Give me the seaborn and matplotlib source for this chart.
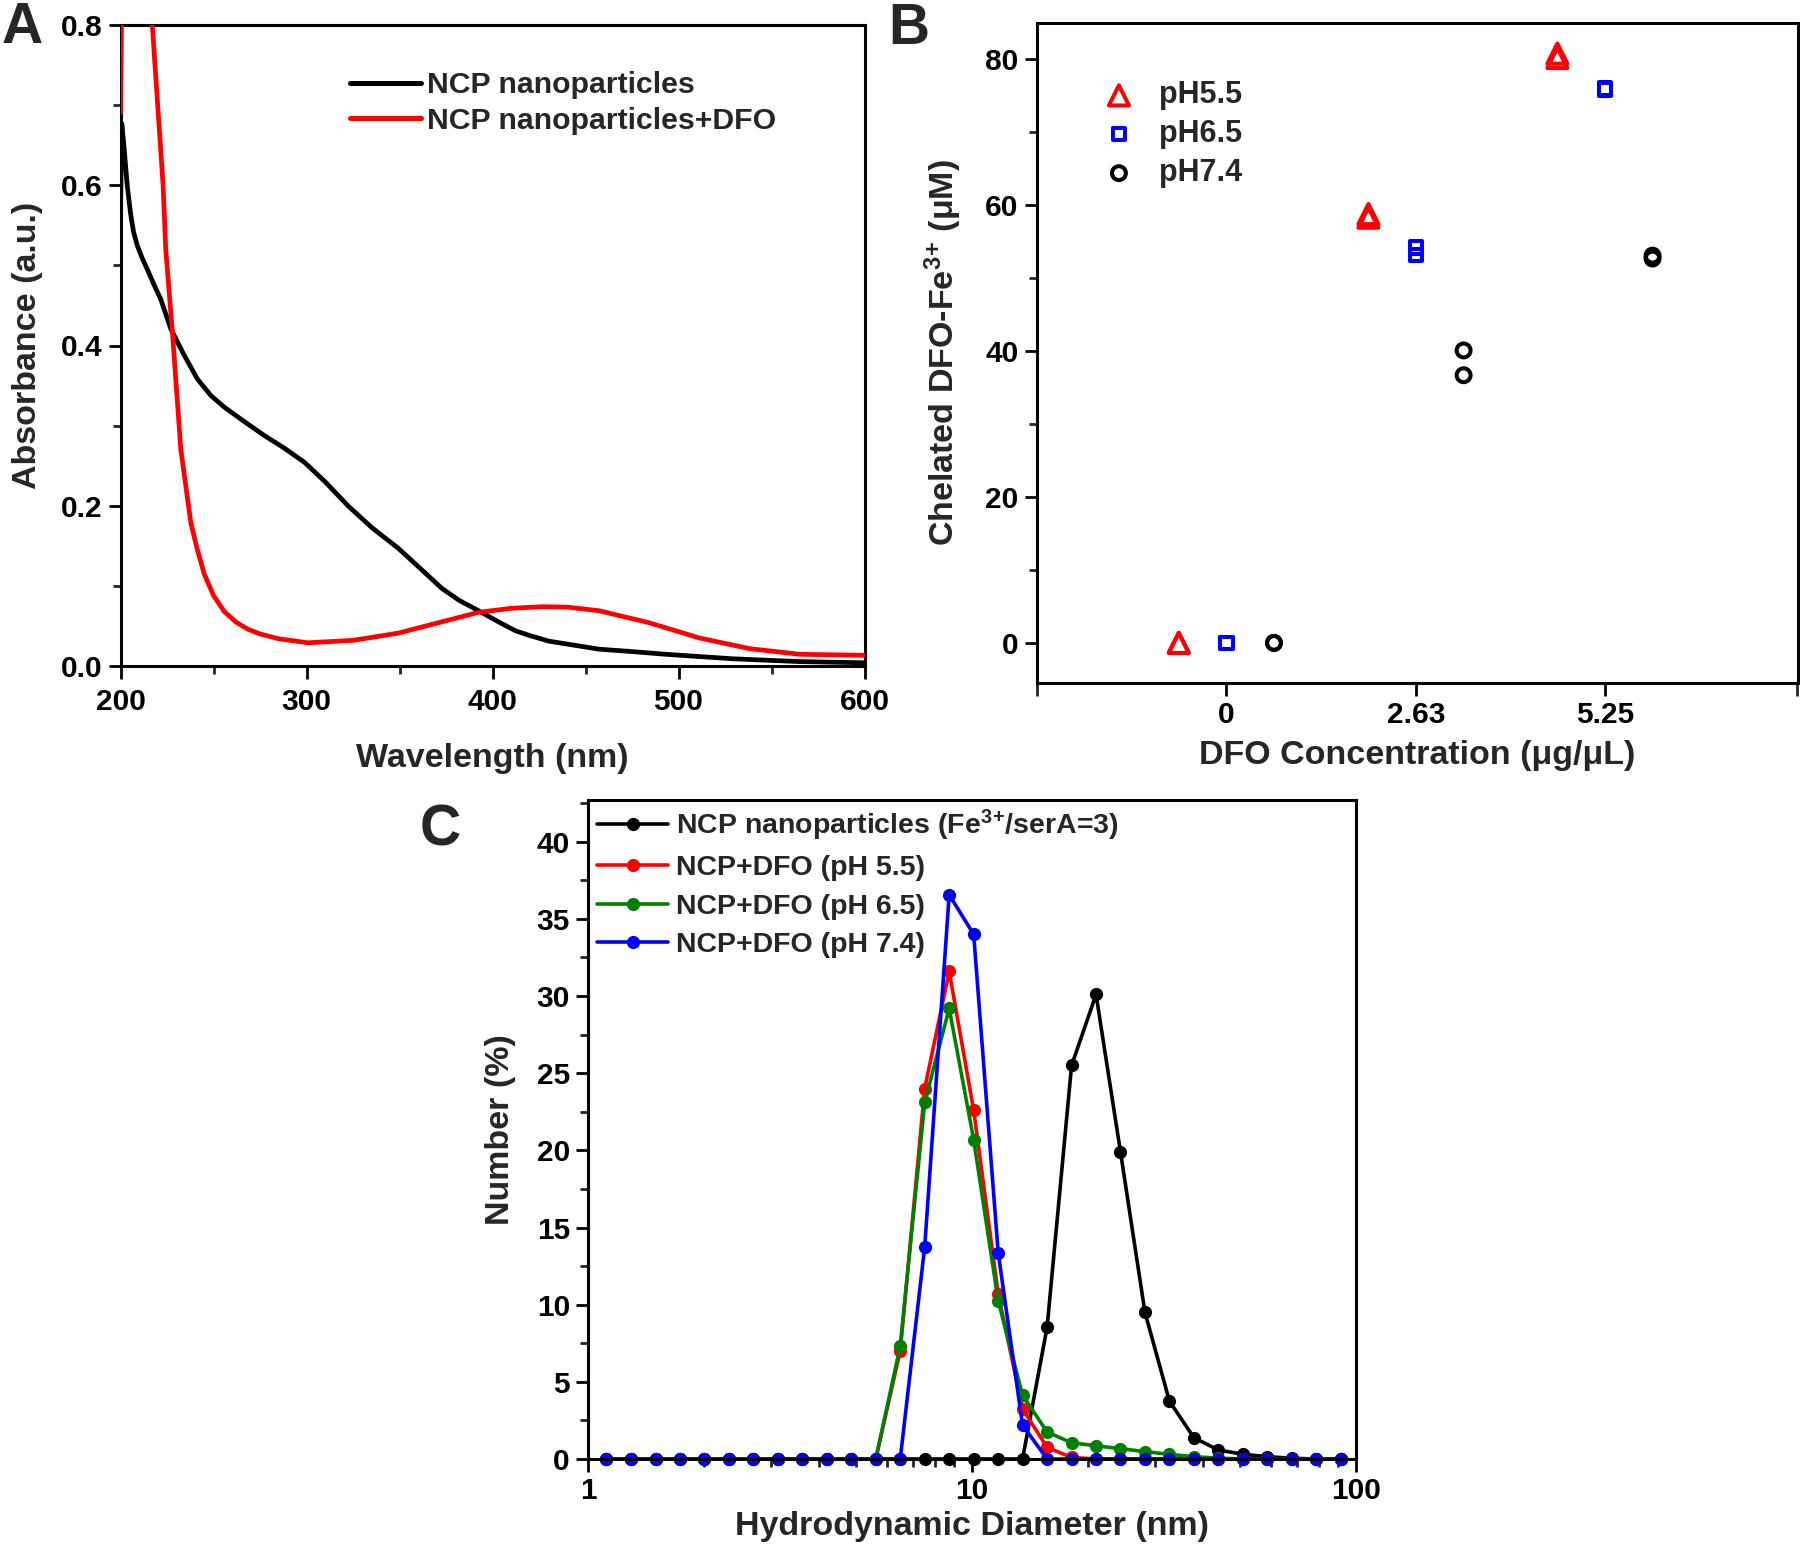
import numpy as np
import pandas as pd
import matplotlib
matplotlib.use("Agg")
import matplotlib.pyplot as plt
import seaborn as sns
from matplotlib.ticker import MultipleLocator, FixedLocator, LogLocator, NullFormatter, FixedFormatter

# ---------------- Panel A data (UV-vis) ----------------
wl_ncp = [200.0, 200.7, 202.0, 203.6, 205.4, 207.0, 209.0, 211.5, 214.4, 218.0, 221.6, 227.0,
          234.2, 241.4, 248.6, 255.8, 266.0, 277.4, 288.0, 299.0, 310.0, 322.3, 335.0, 349.3,
          362.0, 372.7, 382.0, 392.5, 403.3, 412.3, 420.0, 430.3, 457.3, 475.0, 493.3, 529.2,
          565.2, 600.0]
abs_ncp = [0.56, 0.677, 0.645, 0.600, 0.565, 0.542, 0.525, 0.510, 0.495, 0.476, 0.458, 0.421,
           0.388, 0.358, 0.3375, 0.323, 0.306, 0.2875, 0.272, 0.254, 0.230, 0.200, 0.173, 0.147,
           0.120, 0.097, 0.082, 0.069, 0.055, 0.044, 0.038, 0.031, 0.021, 0.018, 0.0146, 0.009,
           0.0055, 0.004]

wl_dfo = [200.0, 200.8, 205.0, 212.0, 217.1, 222.9, 224.3, 227.9, 232.4, 237.8, 241.0, 245.0,
          250.0, 255.8, 262.0, 268.4, 275.0, 285.0, 300.7, 325.0, 349.3, 370.9, 392.5, 410.0,
          426.6, 440.0, 457.3, 484.2, 511.2, 538.2, 565.2, 600.0]
abs_dfo = [0.69, 0.86, 1.2, 1.2, 0.80, 0.60, 0.521, 0.417, 0.271, 0.179, 0.148, 0.115,
           0.088, 0.068, 0.055, 0.046, 0.040, 0.034, 0.029, 0.032, 0.041, 0.054, 0.067, 0.072,
           0.074, 0.0735, 0.069, 0.054, 0.035, 0.0217, 0.0146, 0.0134]

# ---------------- Panel B data (chelation) ----------------
conc_levels = [0, 2.63, 5.25]
conc_b = [0, 0, 2.63, 2.63, 5.25, 5.25]
chel_ph55 = [0, 0, 58.3, 58.8, 80.2, 80.8]
chel_ph65 = [0, 0, 53.2, 54.2, 75.9, 76.0]
chel_ph74 = [0, 0, 36.7, 40.1, 52.7, 53.1]

# ---------------- Panel C data (DLS number distribution) ----------------
size_nm = [1.117, 1.294, 1.499, 1.736, 2.010, 2.328, 2.696, 3.122, 3.615, 4.187, 4.849,
           5.615, 6.503, 7.531, 8.721, 10.10, 11.70, 13.54, 15.69, 18.17, 21.04, 24.36,
           28.21, 32.67, 37.84, 43.82, 50.75, 58.77, 68.06, 78.82, 91.28]
num_ncp = [0, 0, 0, 0, 0, 0, 0, 0, 0, 0, 0,
           0, 0, 0, 0, 0, 0, 0, 8.55, 25.5, 30.1, 19.9,
           9.5, 3.75, 1.38, 0.58, 0.31, 0.15, 0.05, 0, 0]
num_ph55 = [0, 0, 0, 0, 0, 0, 0, 0, 0, 0, 0,
            0, 7.0, 24.0, 31.6, 22.6, 10.7, 3.25, 0.75, 0.1, 0, 0,
            0, 0, 0, 0, 0, 0, 0, 0, 0]
num_ph65 = [0, 0, 0, 0, 0, 0, 0, 0, 0, 0, 0,
            0, 7.32, 23.1, 29.2, 20.7, 10.25, 4.14, 1.75, 1.05, 0.86, 0.67,
            0.48, 0.30, 0.15, 0.05, 0, 0, 0, 0, 0]
num_ph74 = [0, 0, 0, 0, 0, 0, 0, 0, 0, 0, 0,
            0, 0, 13.75, 36.56, 34.0, 13.37, 2.2, 0, 0, 0, 0,
            0, 0, 0, 0, 0, 0, 0, 0, 0]

# ---------------- styling ----------------
sns.set_theme(style="ticks")
FONT = ["Liberation Sans", "DejaVu Sans"]
plt.rcParams["font.family"] = FONT
plt.rcParams["font.weight"] = "bold"
plt.rcParams["axes.labelweight"] = "bold"
plt.rcParams["mathtext.fontset"] = "custom"
plt.rcParams["mathtext.rm"] = "Liberation Sans:bold"
plt.rcParams["mathtext.bf"] = "Liberation Sans:bold"
plt.rcParams["mathtext.it"] = "Liberation Sans:bold"
plt.rcParams["mathtext.default"] = "bf"

TICK_FS = 21.5
LABEL_FS = 24.5
SPINE_W = 2.2

fig = plt.figure(figsize=(18, 15.47), dpi=100)
W, H = 1800.0, 1547.0

def add_axes(l, r, t, b):
    return fig.add_axes([l / W, 1 - b / H, (r - l) / W, (b - t) / H])

def style_axes(ax):
    for s in ax.spines.values():
        s.set_linewidth(SPINE_W)
        s.set_color("black")
        s.set_visible(True)
    ax.tick_params(which="major", direction="out", length=9, width=2.0, labelsize=TICK_FS,
                   pad=4, colors="black", top=False, right=False)
    ax.tick_params(which="minor", direction="out", length=5.5, width=2.0, top=False, right=False)
    for lab in ax.get_xticklabels() + ax.get_yticklabels():
        lab.set_fontweight("bold")

# ---------------- Panel A ----------------
axA = add_axes(120.5, 864.5, 25, 666)
dfA1 = pd.DataFrame({"wl": wl_ncp, "abs": abs_ncp})
dfA2 = pd.DataFrame({"wl": wl_dfo, "abs": abs_dfo})
sns.lineplot(data=dfA1, x="wl", y="abs", ax=axA, color="black", linewidth=3.4,
             label="NCP nanoparticles", errorbar=None, zorder=3)
sns.lineplot(data=dfA2, x="wl", y="abs", ax=axA, color="#ff0000", linewidth=3.4,
             label="NCP nanoparticles+DFO", errorbar=None, zorder=3)
axA.set_xlim(200, 600)
axA.set_ylim(0, 0.8)
axA.xaxis.set_major_locator(MultipleLocator(100))
axA.xaxis.set_minor_locator(MultipleLocator(50))
axA.set_yticks([0, 0.2, 0.4, 0.6, 0.8])
axA.set_yticklabels(["0.0", "0.2", "0.4", "0.6", "0.8"])
axA.yaxis.set_minor_locator(MultipleLocator(0.1))
style_axes(axA)
axA.tick_params(axis="x", which="major", pad=6.5)
axA.set_xlabel("Wavelength (nm)", fontsize=LABEL_FS, fontweight="bold", labelpad=19.5)
axA.set_ylabel("Absorbance (a.u.)", fontsize=LABEL_FS, fontweight="bold", labelpad=12.5)
legA = axA.legend(loc="upper left", bbox_to_anchor=(0.308, 0.928), frameon=False,
                  prop={"size": 21.8, "weight": "bold"}, handlelength=2.34,
                  handletextpad=0.23, borderpad=0, borderaxespad=0, labelspacing=0.25)
for h in legA.get_lines():
    h.set_linewidth(3.6)

# ---------------- Panel B ----------------
axB = add_axes(1036.7, 1797.5, 23, 683)
dodge = 0.66
seriesB = [("pH5.5", chel_ph55, -dodge, "^", "#ff0000", 210),
           ("pH6.5", chel_ph65, 0.0, "s", "#0000ff", 80),
           ("pH7.4", chel_ph74, dodge, "o", "black", 100)]
for name, vals, off, mk, col, sz in seriesB:
    dfB = pd.DataFrame({"x": np.array(conc_b) + off, "y": vals})
    sns.scatterplot(data=dfB, x="x", y="y", ax=axB, marker=mk, s=sz,
                    facecolors="none", edgecolors=col, linewidths=2.9, label=name)
axB.set_xlim(-2.63, 7.92)
axB.set_ylim(-5.5, 85)
axB.set_xticks(conc_levels)
axB.set_xticklabels(["0", "2.63", "5.25"])
axB.xaxis.set_minor_locator(FixedLocator([-2.63, 7.92]))
axB.yaxis.set_major_locator(MultipleLocator(20))
axB.yaxis.set_minor_locator(MultipleLocator(10))
style_axes(axB)
axB.tick_params(axis="x", which="minor", length=9)
axB.set_xlabel("DFO Concentration (\u03bcg/\u03bcL)", fontsize=LABEL_FS, fontweight="bold", labelpad=8)
axB.set_ylabel("Chelated DFO-Fe$^{3}$$^{+}$ (\u03bcM)", fontsize=LABEL_FS, fontweight="bold", labelpad=15)
legB = axB.legend(loc="upper left", bbox_to_anchor=(0.09, 0.913), frameon=False,
                  prop={"size": 22, "weight": "bold"}, handlelength=0.9,
                  handletextpad=0.86, borderpad=0, borderaxespad=0, labelspacing=0.29,
                  scatterpoints=1)

# ---------------- Panel C ----------------
axC = add_axes(588, 1356, 800, 1459)
seriesC = [("NCP nanoparticles (Fe$^{3}$$^{+}$/serA=3)", num_ncp, "black"),
           ("NCP+DFO (pH 5.5)", num_ph55, "#ff0000"),
           ("NCP+DFO (pH 6.5)", num_ph65, "#008000"),
           ("NCP+DFO (pH 7.4)", num_ph74, "#0000ff")]
for name, vals, col in seriesC:
    dfC = pd.DataFrame({"d": size_nm, "n": vals})
    sns.lineplot(data=dfC, x="d", y="n", ax=axC, color=col, linewidth=2.6, marker="o",
                 markersize=9.5, markeredgewidth=0, label=name, errorbar=None, clip_on=False)
axC.set_xscale("log")
axC.set_xlim(1, 100)
axC.set_ylim(0, 42.7)
axC.xaxis.set_major_locator(FixedLocator([1, 10, 100]))
axC.xaxis.set_major_formatter(FixedFormatter(["1", "10", "100"]))
axC.xaxis.set_minor_locator(LogLocator(base=10, subs=np.arange(2, 10)))
axC.xaxis.set_minor_formatter(NullFormatter())
axC.yaxis.set_major_locator(MultipleLocator(5))
axC.yaxis.set_minor_locator(MultipleLocator(2.5))
style_axes(axC)
axC.set_xlabel("Hydrodynamic Diameter (nm)", fontsize=LABEL_FS, fontweight="bold", labelpad=4)
axC.set_ylabel("Number (%)", fontsize=LABEL_FS, fontweight="bold", labelpad=15)
legC = axC.legend(loc="upper left", bbox_to_anchor=(0.012, 0.988), frameon=False,
                  prop={"size": 20.5, "weight": "bold"}, handlelength=2.5,
                  handletextpad=0.25, borderpad=0, borderaxespad=0, labelspacing=0.43)

# panel letters
fig.text(2 / W, 1 - 1 / H, "A", fontsize=41, fontweight="bold", ha="left", va="top")
fig.text(888 / W, 1 - 2 / H, "B", fontsize=41, fontweight="bold", ha="left", va="top")
fig.text(420 / W, 1 - 803 / H, "C", fontsize=41, fontweight="bold", ha="left", va="top")

fig.savefig("out.png", dpi=100, facecolor="white")
